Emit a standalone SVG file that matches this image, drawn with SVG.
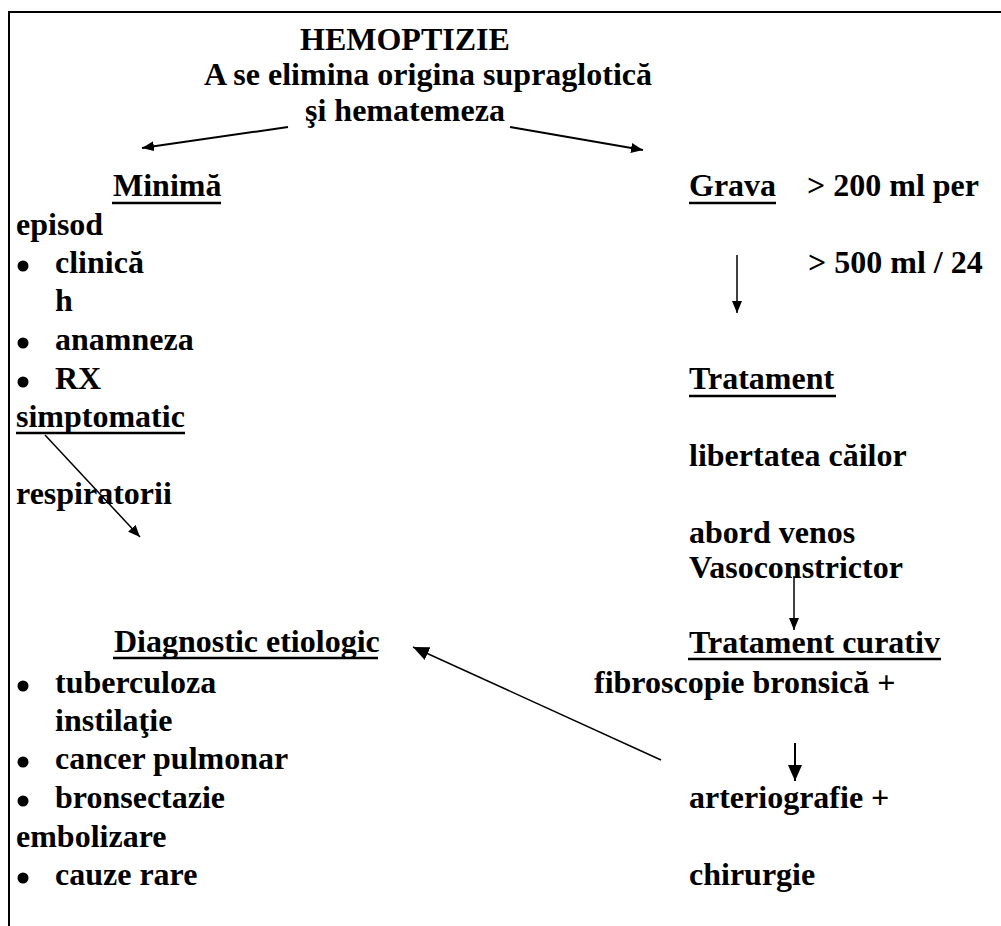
<svg xmlns="http://www.w3.org/2000/svg" width="1001" height="926" viewBox="0 0 1001 926">
<style>
text{font-family:"Liberation Serif","Times New Roman",serif;font-weight:bold;font-size:32px;fill:#000}
.ul{stroke:#000;stroke-width:2.5}
.c{stroke:#000;stroke-width:1.5;fill:none}
.c2{stroke:#000;stroke-width:2;fill:none}
</style>
<defs>
<marker id="ah" markerUnits="userSpaceOnUse" markerWidth="14" markerHeight="12" refX="12" refY="5" orient="auto"><path d="M0,0 L12,5 L0,10 Z" fill="#000"/></marker>
<marker id="ahL" markerUnits="userSpaceOnUse" markerWidth="18" markerHeight="16" refX="16" refY="7" orient="auto"><path d="M0,0 L16,7 L0,14 Z" fill="#000"/></marker>
</defs>
<rect width="1001" height="926" fill="#fff"/>
<g id="border"><path d="M9,926 V12 H1001" fill="none" stroke="#000" stroke-width="2"/></g>

<g id="title">
<text x="300" y="50">HEMOPTIZIE</text>
<text x="204" y="85">A se elimina origina supraglotică</text>
<text x="305" y="121">şi hematemeza</text>
</g>

<g id="minima">
<text x="113" y="196">Minimă</text><line class="ul" x1="112" y1="203" x2="221" y2="203"/>
<text x="16" y="235">episod</text>
<circle cx="23" cy="266" r="5.5"/><text x="55" y="273">clinică</text>
<text x="55" y="311">h</text>
<circle cx="23" cy="343" r="5.5"/><text x="55" y="350">anamneza</text>
<circle cx="23" cy="382" r="5.5"/><text x="55" y="389">RX</text>
<text x="16" y="427">simptomatic</text><line class="ul" x1="16" y1="433" x2="185" y2="433"/>
<text x="16" y="504">respiratorii</text>
</g>

<g id="grava">
<text x="689" y="196">Grava</text><line class="ul" x1="689" y1="203" x2="776" y2="203"/>
<text x="807" y="196">&gt; 200 ml per</text>
<text x="808" y="273">&gt; 500 ml / 24</text>
</g>

<g id="tratament">
<text x="689" y="389">Tratament</text><line class="ul" x1="689" y1="396" x2="836" y2="396"/>
<text x="689" y="466">libertatea căilor</text>
<text x="689" y="543">abord venos</text>
<text x="689" y="578">Vasoconstrictor</text>
</g>

<g id="diagnostic">
<text x="114" y="652">Diagnostic etiologic</text><line class="ul" x1="113" y1="658" x2="378" y2="658"/>
<circle cx="23" cy="686" r="5.5"/><text x="55" y="693">tuberculoza</text>
<text x="55" y="731">instilaţie</text>
<circle cx="23" cy="762" r="5.5"/><text x="55" y="769">cancer pulmonar</text>
<circle cx="23" cy="801" r="5.5"/><text x="55" y="808">bronsectazie</text>
<text x="16" y="847">embolizare</text>
<circle cx="23" cy="878" r="5.5"/><text x="55" y="885">cauze rare</text>
</g>

<g id="curativ">
<text x="689" y="653">Tratament curativ</text><line class="ul" x1="688" y1="659" x2="941" y2="659"/>
<text x="594" y="693">fibroscopie bronsică +</text>
<text x="689" y="808">arteriografie +</text>
<text x="689" y="885">chirurgie</text>
</g>

<g id="connectors">
<line class="c2" x1="288" y1="127" x2="142" y2="148" marker-end="url(#ah)"/>
<line class="c2" x1="510" y1="127" x2="643" y2="150" marker-end="url(#ah)"/>
<line class="c" x1="737" y1="255" x2="737" y2="313" marker-end="url(#ah)"/>
<line class="c" x1="45" y1="435" x2="140" y2="537" marker-end="url(#ah)"/>
<line class="c" x1="794" y1="576" x2="794" y2="630" marker-end="url(#ah)"/>
<line class="c" x1="661" y1="760" x2="413" y2="647" marker-end="url(#ahL)"/>
<line class="c2" x1="795" y1="743" x2="795" y2="781" marker-end="url(#ahL)"/>
</g>
</svg>
